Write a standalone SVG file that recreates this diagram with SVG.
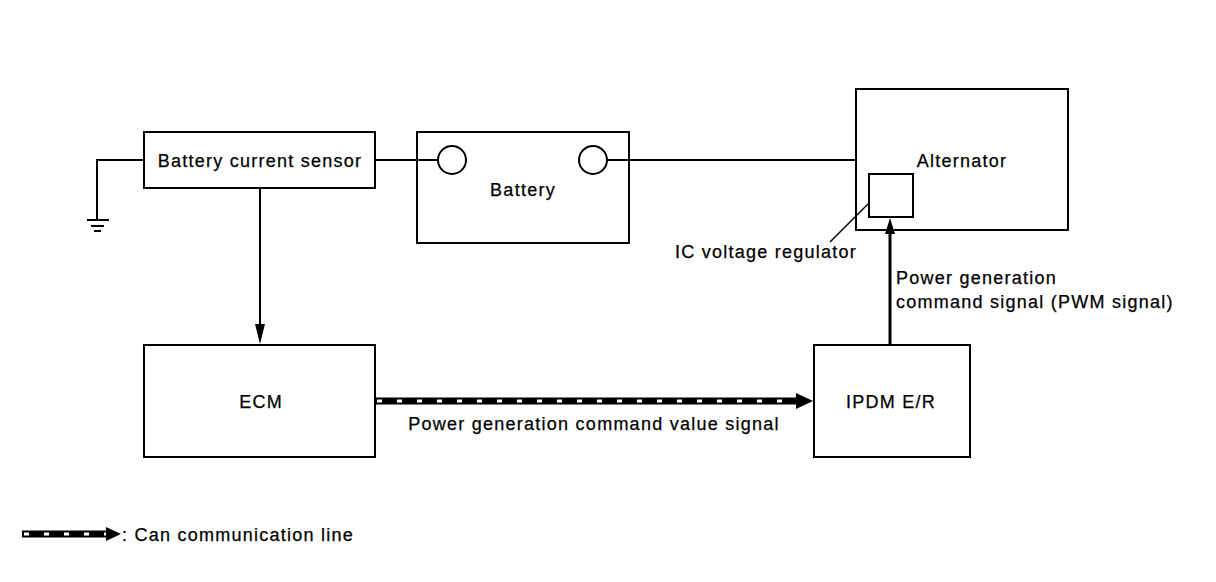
<svg xmlns="http://www.w3.org/2000/svg" width="1216" height="582" viewBox="0 0 1216 582">
<defs>
<style>
.box{fill:#fff;stroke:#000;stroke-width:2}
.wire{fill:none;stroke:#000;stroke-width:2}
.t{font-family:"Liberation Sans",Arial,sans-serif;font-size:18px;letter-spacing:1.25px;fill:#000;stroke:#000;stroke-width:0.25}
.c{text-anchor:middle}
.canb{stroke:#000;stroke-width:7;fill:none}
.canw{stroke:#fff;stroke-width:3;fill:none;stroke-dasharray:5 15}
</style>
</defs>
<rect width="1216" height="582" fill="#fff"/>
<g id="sensor">
<rect class="box" x="144" y="132" width="231" height="56"/>
<text class="t c" x="260" y="167">Battery current sensor</text>
</g>
<g id="battery">
<rect class="box" x="417" y="132" width="212" height="111"/>
<circle class="box" cx="452" cy="160" r="14"/>
<circle class="box" cx="593" cy="160" r="14"/>
<text class="t c" x="523" y="196">Battery</text>
</g>
<g id="alternator">
<rect class="box" x="856" y="89" width="212" height="141"/>
<text class="t c" x="962" y="167">Alternator</text>
</g>
<g id="regulator">
<rect class="box" x="869" y="174" width="44" height="43"/>
<text class="t" x="675" y="258">IC voltage regulator</text>
</g>
<g id="ecm">
<rect class="box" x="144" y="345" width="231" height="112"/>
<text class="t c" x="261" y="408">ECM</text>
</g>
<g id="ipdm">
<rect class="box" x="814" y="345" width="156" height="112"/>
<text class="t c" x="891" y="408">IPDM E/R</text>
</g>
<g id="connectors">
<polyline class="wire" points="144,160 97,160 97,220"/>
<line class="wire" x1="87" y1="220" x2="109" y2="220"/>
<line class="wire" x1="91" y1="226" x2="104" y2="226"/>
<line class="wire" x1="94" y1="231" x2="101" y2="231"/>
<line class="wire" x1="375" y1="160" x2="438" y2="160"/>
<line class="wire" x1="607" y1="160" x2="856" y2="160"/>
<line class="wire" x1="260" y1="188" x2="260" y2="326"/>
<polygon points="255,324 265,324 260,344"/>
<line stroke="#000" stroke-width="3" x1="890" y1="345" x2="890" y2="232"/>
<polygon points="885,234 895,234 890,218"/>
<line stroke="#000" stroke-width="1.5" x1="869" y1="203" x2="830" y2="242"/>
<line class="canb" x1="375" y1="401" x2="800" y2="401"/>
<line class="canw" x1="377" y1="401" x2="798" y2="401"/>
<polygon points="796,393 796,409 813,401"/>
<line class="canb" x1="22" y1="534" x2="108" y2="534"/>
<line class="canw" x1="24" y1="534" x2="106" y2="534"/>
<polygon points="106,527 106,541 121,534"/>
</g>
<g id="labels">
<text class="t" x="896" y="284">Power generation</text>
<text class="t" x="896" y="308">command signal (PWM signal)</text>
<text class="t c" x="594" y="430">Power generation command value signal</text>
<text class="t" x="122" y="541">: Can communication line</text>
</g>
</svg>
